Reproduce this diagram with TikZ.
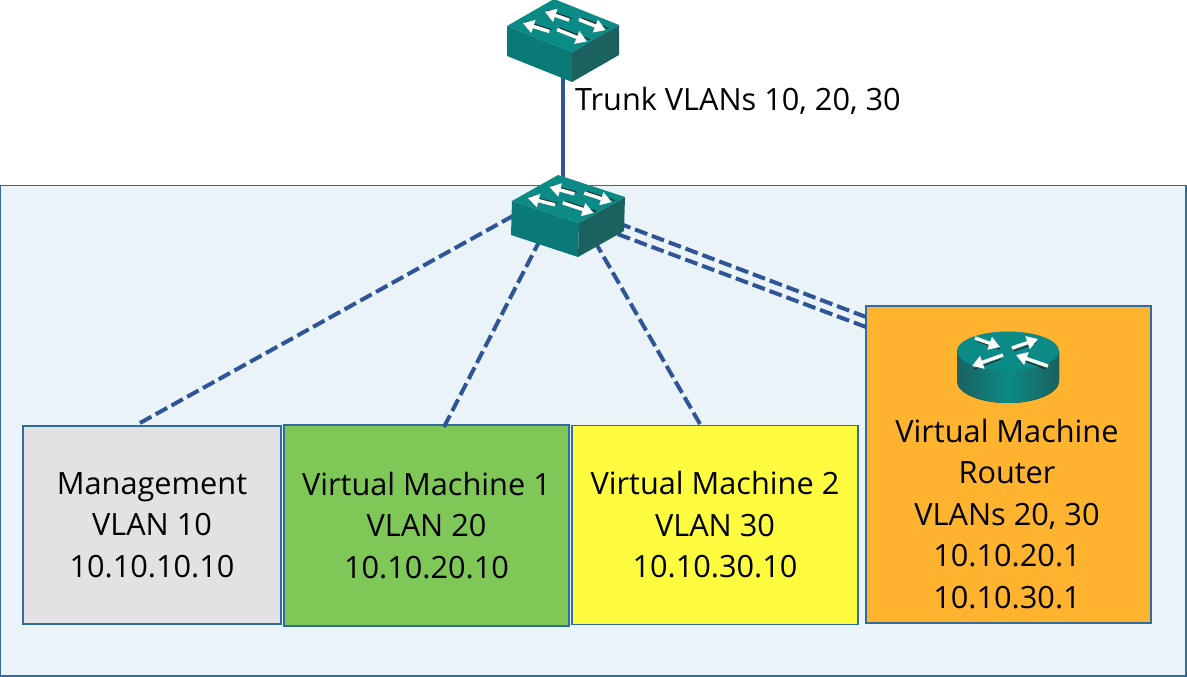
\documentclass[tikz,border=0pt]{standalone}
\usepackage{fontspec}
\setmainfont{Open Sans}
\usetikzlibrary{arrows.meta}
\definecolor{panelfill}{HTML}{EAF3F8}
\definecolor{edgeblue}{HTML}{2F6E9C}
\definecolor{linkblue}{HTML}{2F5597}
\definecolor{tealtop}{HTML}{0B8A86}
\definecolor{tealleft}{HTML}{0A7A76}
\definecolor{tealright}{HTML}{1B615F}
\definecolor{mgmtgray}{HTML}{E3E1E3}
\definecolor{vmgreen}{HTML}{7FC857}
\definecolor{vmyellow}{HTML}{FFFC40}
\definecolor{vmorange}{HTML}{FFB32E}
\tikzset{
  labeltext/.style={font=\fontsize{30.7}{41.5}\selectfont},
  vmbox/.style={draw=edgeblue,line width=1.8pt,align=center,inner sep=0pt,labeltext},
  trunk/.style={draw=linkblue,line width=3.8pt},
  vlanlink/.style={draw=linkblue,line width=4pt,dash pattern=on 13pt off 5pt},
  iconarrow/.style={draw=white,line width=3.4pt,-{Triangle[length=11pt,width=13pt]}},
  iconshade/.style={draw=black!85,line width=1pt},
  pics/switchicon/.style={code={
    \begin{scope}[#1]
      \fill[tealleft] (0,0,0) -- (1,0,0) -- (1,0,1) -- (0,0,1) -- cycle;
      \fill[tealright] (0,0,0) -- (0,1,0) -- (0,1,1) -- (0,0,1) -- cycle;
      \fill[tealtop] (0,0,0) -- (1,0,0) -- (1,1,0) -- (0,1,0) -- cycle;
      \draw[iconshade] (.53,.31,0) -- (.90,.26,0);
      \draw[iconshade] (.53,.73,0) -- (.88,.70,0);
      \draw[iconshade] (.45,.83,0) -- (.04,.83,0);
      \draw[iconshade] (.49,.42,0) -- (.03,.42,0);
      \draw[iconarrow] (.53,.25,0) -- (.90,.20,0);
      \draw[iconarrow] (.53,.67,0) -- (.88,.64,0);
      \draw[iconarrow] (.45,.77,0) -- (.04,.77,0);
      \draw[iconarrow] (.49,.36,0) -- (.03,.36,0);
    \end{scope}
  }}
}
\begin{document}
\begin{tikzpicture}[x=1pt,y=-1pt]
  \useasboundingbox (0,0) rectangle (1187,677);
  \filldraw[fill=panelfill,draw=edgeblue,line width=1.8pt] (0,185.5) rectangle (1186,676);
  % boxes
  \node[vmbox,fill=mgmtgray,minimum width=258pt,minimum height=198pt] (mgmt) at (152,525) {Management\\VLAN 10\\10.10.10.10};
  \node[vmbox,fill=vmgreen,minimum width=285pt,minimum height=201pt] (vmone) at (426.5,525.5) {Virtual Machine 1\\VLAN 20\\10.10.20.10};
  \node[vmbox,fill=vmyellow,minimum width=286pt,minimum height=199pt] (vmtwo) at (715,525) {Virtual Machine 2\\VLAN 30\\10.10.30.10};
  \node[vmbox,fill=vmorange,minimum width=285pt,minimum height=317pt] (vmrouter) at (1008.5,464.5) {};
  \node[labeltext,align=center] (vmroutertext) at (1007,514) {Virtual Machine\\Router\\VLANs 20, 30\\10.10.20.1\\10.10.30.1};
  \node[labeltext,anchor=west,inner sep=0pt] (trunklabel) at (575,101) {Trunk VLANs 10, 20, 30};
  % link ends
  \coordinate (swtop) at (563,70);
  \coordinate (swmid) at (563,190);
  \coordinate (mgmtend) at (140,423);
  \coordinate (mgmtsw) at (520,212);
  \coordinate (vmoneend) at (444,427);
  \coordinate (vmonesw) at (541,238);
  \coordinate (vmtwoend) at (700,424);
  \coordinate (vmtwosw) at (594,240);
  \coordinate (routerupper) at (866,317);
  \coordinate (routerlower) at (866,327);
  \coordinate (swupper) at (618,223);
  \coordinate (swlower) at (612,232);
  \draw[trunk] (swtop) to (swmid);
  \draw[vlanlink] (mgmtend) to (mgmtsw);
  \draw[vlanlink] (vmoneend) to (vmonesw);
  \draw[vlanlink] (vmtwoend) to (vmtwosw);
  \draw[vlanlink] (routerupper) to (swupper);
  \draw[vlanlink] (routerlower) to (swlower);
  % switches
  \pic at (572,52) {switchicon={x={(-65pt,26pt)},y={(47pt,27pt)},z={(0pt,-30pt)}}};
  \pic at (579,223) {switchicon={x={(-67pt,22pt)},y={(46pt,26pt)},z={(-1pt,-34pt)}}};
  % router
  \fill[left color=tealright,right color=tealright,middle color=tealtop] (957,351) -- (957,381) arc[start angle=180,end angle=0,x radius=51,y radius=22] -- (1059,351) -- cycle;
  \fill[tealtop] (1008,351) ellipse[x radius=51,y radius=19.5];
  \draw[iconshade] (977,341) -- (1000,349);
  \draw[iconshade] (1014,351) -- (1036,343);
  \draw[iconshade] (1001,359) -- (974,369);
  \draw[iconshade] (1046,369) -- (1020,359);
  \draw[iconarrow] (975,338) -- (1000,347);
  \draw[iconarrow] (1012,348) -- (1038,339);
  \draw[iconarrow] (1003,355) -- (972,366);
  \draw[iconarrow] (1048,366) -- (1016,355);
\end{tikzpicture}
\end{document}
